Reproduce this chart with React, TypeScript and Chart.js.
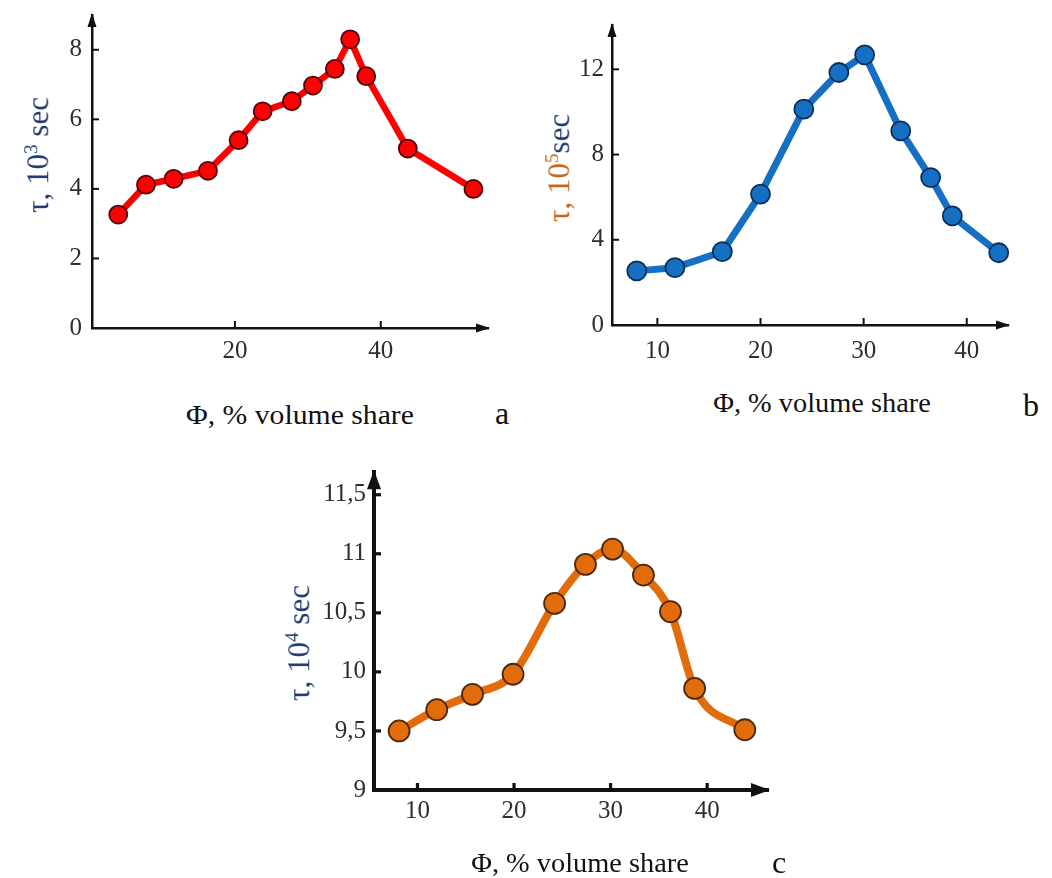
import React, { useEffect, useRef } from "react";
import { Chart, registerables } from "chart.js";

Chart.register(...registerables);

// ---- data ----
const phiA = [4.0, 7.8, 11.6, 16.3, 20.5, 23.8, 27.8, 30.7, 33.7, 35.8, 38.0, 43.7, 52.7];
const tauA = [3.26, 4.12, 4.29, 4.52, 5.4, 6.23, 6.52, 6.97, 7.45, 8.3, 7.24, 5.16, 4.0];

const phiB = [8.0, 11.7, 16.3, 20.0, 24.2, 27.6, 30.1, 33.6, 36.5, 38.6, 43.1];
const tauB = [2.54, 2.69, 3.44, 6.14, 10.13, 11.85, 12.68, 9.11, 6.92, 5.12, 3.39];

const phiC = [8.1, 12.0, 15.7, 19.9, 24.2, 27.4, 30.2, 33.4, 36.2, 38.7, 43.9];
const tauC = [9.5, 9.68, 9.81, 9.98, 10.58, 10.91, 11.04, 10.82, 10.51, 9.86, 9.51];

const xTicksA = [20, 40];
const yTicksA = [0, 2, 4, 6, 8];
const xTicksB = [10, 20, 30, 40];
const yTicksB = [0, 4, 8, 12];
const xTicksC = [10, 20, 30, 40];
const yTicksC = [9, 9.5, 10, 10.5, 11, 11.5];

const xTitle = "Φ, % volume share";

type Spec = {
  left: number; top: number; w: number; h: number;
  area: { left: number; right: number; top: number; bottom: number };
  xMin: number; xMax: number; yMin: number; yMax: number;
  xs: number[]; ys: number[]; xTicks: number[]; yTicks: number[];
  color: string; pointBorder: string; lineWidth: number; pointRadius: number;
  monotone: boolean; axisWidth: number; arrowLen: number; arrowHalf: number;
  xPad: number; yPad: number; comma: boolean;
};

const SERIF = "'Liberation Serif', 'Times New Roman', serif";

function Panel({ s }: { s: Spec }) {
  const ref = useRef<HTMLCanvasElement>(null);
  useEffect(() => {
    const yW = 80;
    const xH = 50;
    const axisPlugin = {
      id: "axisDecor",
      afterDraw(chart: any) {
        const { ctx, chartArea } = chart;
        const xs = chart.scales.x;
        const ys = chart.scales.y;
        ctx.save();
        ctx.strokeStyle = "#111";
        ctx.fillStyle = "#111";
        ctx.lineWidth = s.axisWidth * 0.8;
        const tl = 7;
        xs.ticks.forEach((t: any) => {
          const px = xs.getPixelForValue(t.value);
          ctx.beginPath();
          ctx.moveTo(px, chartArea.bottom);
          ctx.lineTo(px, chartArea.bottom - tl);
          ctx.stroke();
        });
        ys.ticks.forEach((t: any) => {
          const py = ys.getPixelForValue(t.value);
          if (Math.abs(py - chartArea.bottom) < 2) return;
          ctx.beginPath();
          ctx.moveTo(chartArea.left, py);
          ctx.lineTo(chartArea.left + tl, py);
          ctx.stroke();
        });
        // arrow heads
        const L = s.arrowLen, H = s.arrowHalf;
        ctx.beginPath();
        ctx.moveTo(chartArea.right + 2, chartArea.bottom);
        ctx.lineTo(chartArea.right - L, chartArea.bottom - H);
        ctx.lineTo(chartArea.right - L, chartArea.bottom + H);
        ctx.closePath();
        ctx.fill();
        ctx.beginPath();
        ctx.moveTo(chartArea.left, chartArea.top - 2);
        ctx.lineTo(chartArea.left - H, chartArea.top + L);
        ctx.lineTo(chartArea.left + H, chartArea.top + L);
        ctx.closePath();
        ctx.fill();
        ctx.restore();
      },
    };
    const fixX = (sc: any) => {
      sc.height = xH;
      sc.paddingLeft = 0; sc.paddingRight = 0; sc.paddingTop = 0; sc.paddingBottom = 0;
    };
    const fixY = (sc: any) => {
      sc.width = yW;
      sc.paddingLeft = 0; sc.paddingRight = 0; sc.paddingTop = 0; sc.paddingBottom = 0;
    };
    const fmt = (v: any) => (s.comma ? String(v).replace(".", ",") : String(v));
    const chart = new Chart(ref.current as HTMLCanvasElement, {
      type: "scatter",
      data: {
        datasets: [
          {
            data: s.xs.map((x, i) => ({ x, y: s.ys[i] })),
            showLine: true,
            borderColor: s.color,
            backgroundColor: s.color,
            borderWidth: s.lineWidth,
            pointRadius: s.pointRadius,
            pointHoverRadius: s.pointRadius,
            pointBackgroundColor: s.color,
            pointBorderColor: s.pointBorder,
            pointBorderWidth: 1.8,
            tension: s.monotone ? 0.4 : 0,
            cubicInterpolationMode: s.monotone ? "monotone" : "default",
            borderCapStyle: "round",
            borderJoinStyle: "round",
            clip: false,
          } as any,
        ],
      },
      options: {
        responsive: false,
        animation: false,
        events: [],
        layout: {
          padding: {
            left: s.area.left - yW,
            right: s.w - s.area.right,
            top: s.area.top,
            bottom: s.h - s.area.bottom - xH,
          },
        },
        plugins: { legend: { display: false }, tooltip: { enabled: false } },
        scales: {
          x: {
            type: "linear",
            min: s.xMin,
            max: s.xMax,
            grid: { display: false, drawTicks: false },
            border: { display: true, color: "#111", width: s.axisWidth },
            ticks: {
              autoSkip: false,
              maxRotation: 0,
              padding: s.xPad,
              color: "#2e2e2e",
              font: { family: SERIF, size: 25 },
              callback: (v: any) => fmt(v),
            },
            afterBuildTicks: (sc: any) => {
              sc.ticks = s.xTicks.map((v) => ({ value: v }));
            },
            afterFit: fixX,
          },
          y: {
            type: "linear",
            min: s.yMin,
            max: s.yMax,
            grid: { display: false, drawTicks: false },
            border: { display: true, color: "#111", width: s.axisWidth },
            ticks: {
              autoSkip: false,
              padding: s.yPad,
              color: "#2e2e2e",
              font: { family: SERIF, size: 25 },
              callback: (v: any) => fmt(v),
            },
            afterBuildTicks: (sc: any) => {
              sc.ticks = s.yTicks.map((v) => ({ value: v }));
            },
            afterFit: fixY,
          },
        } as any,
      },
      plugins: [axisPlugin],
    });
    return () => chart.destroy();
  }, []);
  return (
    <canvas
      ref={ref}
      width={s.w}
      height={s.h}
      style={{ position: "absolute", left: s.left, top: s.top, width: s.w, height: s.h }}
    />
  );
}

const specA: Spec = {
  left: 0, top: 0, w: 520, h: 385,
  area: { left: 92, right: 488, top: 15, bottom: 328 },
  xMin: 0.4, xMax: 54.7, yMin: 0, yMax: 9.0,
  xs: phiA, ys: tauA, xTicks: xTicksA, yTicks: yTicksA,
  color: "#ff0000", pointBorder: "#4a0808", lineWidth: 6.5, pointRadius: 9,
  monotone: false, axisWidth: 2.5, arrowLen: 12, arrowHalf: 4.5,
  xPad: 8, yPad: 10, comma: false,
};

const specB: Spec = {
  left: 520, top: 0, w: 532, h: 385,
  area: { left: 92, right: 488, top: 25, bottom: 325 },
  xMin: 5.6, xMax: 44.0, yMin: 0, yMax: 14.08,
  xs: phiB, ys: tauB, xTicks: xTicksB, yTicks: yTicksB,
  color: "#1570c4", pointBorder: "#0b2f57", lineWidth: 7, pointRadius: 9.5,
  monotone: false, axisWidth: 2.5, arrowLen: 12, arrowHalf: 4.5,
  xPad: 11, yPad: 8, comma: false,
};

const specC: Spec = {
  left: 280, top: 460, w: 520, h: 400,
  area: { left: 94, right: 488, top: 8, bottom: 330 },
  xMin: 5.5, xMax: 46.3, yMin: 9, yMax: 11.69,
  xs: phiC, ys: tauC, xTicks: xTicksC, yTicks: yTicksC,
  color: "#e36c0a", pointBorder: "#4a2a10", lineWidth: 8, pointRadius: 10.5,
  monotone: true, axisWidth: 4, arrowLen: 17, arrowHalf: 7,
  xPad: 6, yPad: 8, comma: true,
};

const NAVY = "#1f3a6e";
const BROWN = "#c0641c";

function Label({ x, y, children, size = 26, rotate = false, color = "#111", sx = 1 }: any) {
  return (
    <div
      style={{
        position: "absolute",
        left: x,
        top: y,
        transform: `translate(-50%, -50%) ${rotate ? "rotate(-90deg)" : ""} scaleX(${sx})`,
        whiteSpace: "nowrap",
        fontFamily: SERIF,
        fontSize: size,
        lineHeight: 1,
        color,
      }}
    >
      {children}
    </div>
  );
}

const supStyle: any = { fontSize: "0.62em", verticalAlign: "0.55em" };

export default function App() {
  return (
    <div style={{ position: "absolute", left: 0, top: 0, width: 1052, height: 878, background: "#fff", overflow: "hidden" }}>
      <Panel s={specA} />
      <Panel s={specB} />
      <Panel s={specC} />

      <Label x={300} y={415} size={27} sx={1.1}>{xTitle}</Label>
      <Label x={822} y={403} size={27} sx={1.05}>{xTitle}</Label>
      <Label x={580} y={863} size={27} sx={1.05}>{xTitle}</Label>

      <Label x={37} y={155} rotate size={31} color={NAVY}>
        τ, 10<span style={supStyle}>3</span> sec
      </Label>
      <Label x={558} y={168} rotate size={31}>
        <span style={{ color: BROWN }}>
          τ, 10<span style={supStyle}>5</span>
        </span>
        <span style={{ color: NAVY }}>sec</span>
      </Label>
      <Label x={298} y={643} rotate size={31} color={NAVY}>
        τ, 10<span style={supStyle}>4</span> sec
      </Label>

      <Label x={502} y={413} size={32}>a</Label>
      <Label x={1031} y={405} size={32}>b</Label>
      <Label x={779} y={862} size={32}>c</Label>
    </div>
  );
}
